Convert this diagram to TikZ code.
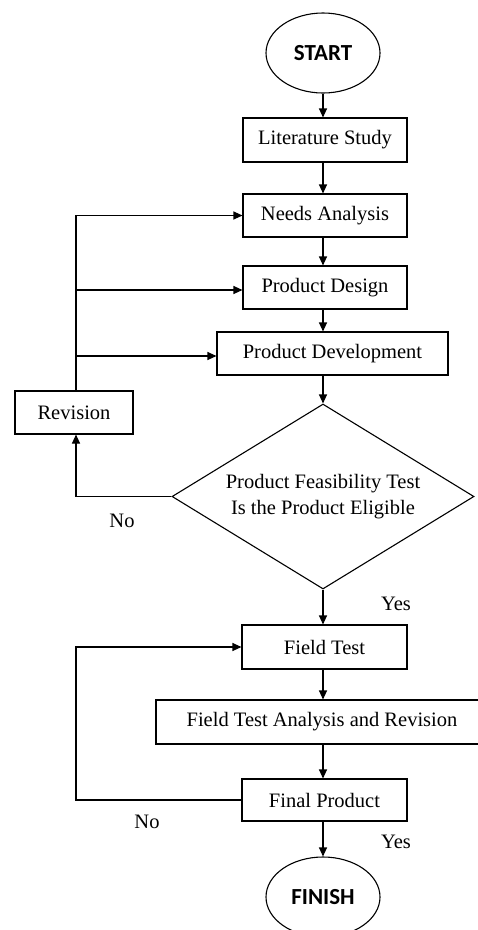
\documentclass[tikz,border=0pt]{standalone}
\usepackage{fontspec}
\setmainfont{Liberation Serif}
\newfontfamily\capfont{Carlito}
\usetikzlibrary{arrows.meta,shapes.geometric}
\tikzset{
  every node/.style={font=\fontsize{20.5}{26}\selectfont},
  box/.style={draw, line width=1.1pt, rectangle, inner sep=0pt, minimum height=44pt},
  term/.style={draw, line width=1.1pt, ellipse, inner sep=0pt, minimum width=114pt, minimum height=80pt, font=\capfont\bfseries\fontsize{23}{26}\selectfont},
  decide/.style={draw, line width=1.1pt, diamond, aspect=1.63, inner sep=0pt, minimum width=302pt, minimum height=185pt, align=center},
  arr/.style={line width=1.1pt, -{Triangle[length=9pt,width=8pt]}},
  ln/.style={line width=1.1pt},
  lbl/.style={inner sep=0pt}
}
\begin{document}
\begin{tikzpicture}[x=1pt,y=-1pt]
\useasboundingbox (0,0) rectangle (478,930);
\clip (0,0) rectangle (478,930);
\node[term] (start) at (323,53) {START};
\node[box, minimum width=164pt] (lit) at (325,140) {Literature Study};
\node[box, minimum width=164pt, minimum height=43pt] (needs) at (325,215.5) {Needs Analysis};
\node[box, minimum width=164pt, minimum height=43pt] (design) at (325,287.5) {Product Design};
\node[box, minimum width=231pt, minimum height=43pt] (dev) at (332.5,353.5) {Product Development};
\node[box, minimum width=118pt, minimum height=43pt] (rev) at (74,412.5) {Revision};
\node[decide] (dia) at (323,496.5) {Product Feasibility Test\\Is the Product Eligible};
\node[box, minimum width=165pt] (field) at (324.5,647) {Field Test};
\node[box, minimum width=332pt] (ana) at (322,722) {Field Test Analysis and Revision};
\node[box, minimum width=165pt, minimum height=42pt] (final) at (324.5,800) {Final Product};
\node[term] (finish) at (323,897) {FINISH};

\coordinate (axis) at (323,0);
\coordinate (lx) at (76,0);
\coordinate (j1) at (76,290);
\coordinate (j2) at (76,356);

\draw[arr] (start.south) -- (start.south |- lit.north);
\draw[arr] (lit.south -| axis) -- (needs.north -| axis);
\draw[arr] (needs.south -| axis) -- (design.north -| axis);
\draw[arr] (design.south -| axis) -- (dev.north -| axis);
\draw[arr] (dev.south -| axis) -- (dia.north);
\draw[arr] (dia.south) -- (field.north -| axis);
\draw[arr] (field.south -| axis) -- (ana.north -| axis);
\draw[arr] (ana.south -| axis) -- (final.north -| axis);
\draw[arr] (final.south -| axis) -- (finish.north);

\draw[arr] (dia.west) -| (rev.south -| lx);
\draw[arr] (rev.north -| lx) |- (needs.west);
\draw[arr] (j1) -- (j1 -| design.west);
\draw[arr] (j2) -- (j2 -| dev.west);
\draw[arr] (final.west) -| (76,722) |- (field.west);

\node[lbl] (no1) at (122,521) {No};
\node[lbl] (yes1) at (396,604) {Yes};
\node[lbl] (no2) at (147,822) {No};
\node[lbl] (yes2) at (396,842) {Yes};
\end{tikzpicture}
\end{document}
